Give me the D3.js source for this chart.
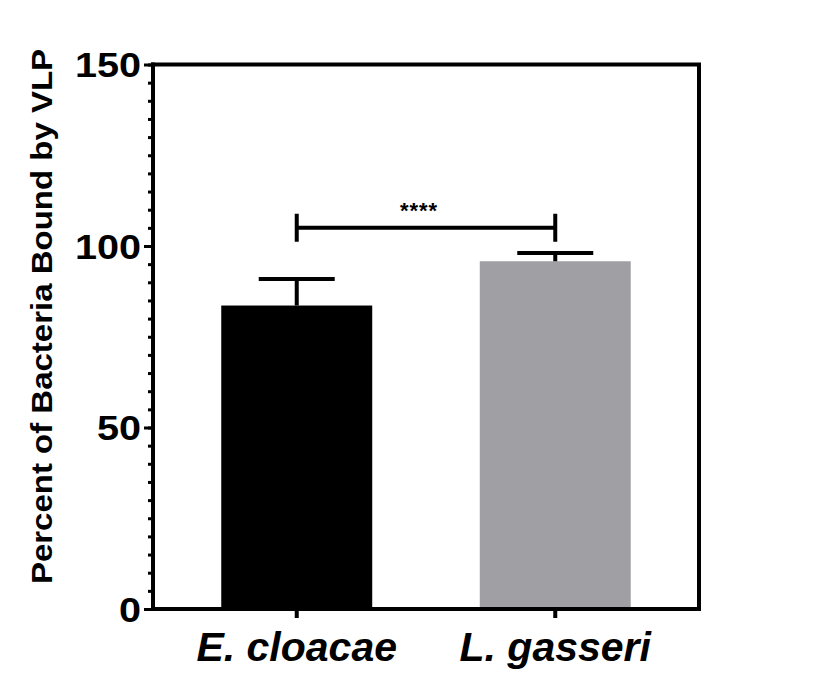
<!DOCTYPE html>
<html>
<head>
<meta charset="utf-8">
<script src="https://cdn.jsdelivr.net/npm/d3@7"></script>
<style>
  body { margin: 0; background: #fff; }
  svg text { font-family: "Liberation Sans", Arial, Helvetica, sans-serif; font-weight: bold; fill: #000; }
</style>
</head>
<body>
<svg id="chart" width="823" height="700"></svg>
<script>
// data
const categories = ['E. cloacae', 'L. gasseri']
const means = [83.6, 95.8]
const errors = [7.3, 2.3]
const barColors = ['#000000', '#a09fa4']
const yTicks = [0, 50, 100, 150]
const yMinorTicks = d3.range(0, 151, 5)
const yLabel = 'Percent of Bacteria Bound by VLP'
const sigPair = ['E. cloacae', 'L. gasseri']
const sigLevel = 105
const sigText = '****'

const PLOT = { left: 153, right: 699, top: 64.5, bottom: 609 }
const STROKE = 4

const svg = d3.select('#chart')

const x = d3.scaleBand()
  .domain(categories)
  .range([PLOT.left, PLOT.right])
  .paddingInner(0.416)
  .paddingOuter(0.264)

const y = d3.scaleLinear()
  .domain([0, 150])
  .range([PLOT.bottom, PLOT.top])

const mid = (c) => x(c) + x.bandwidth() / 2

// bars
svg.append('g').selectAll('rect')
  .data(categories)
  .join('rect')
    .attr('x', (d) => x(d))
    .attr('width', x.bandwidth())
    .attr('y', (d, i) => y(means[i]))
    .attr('height', (d, i) => y(0) - y(means[i]))
    .attr('fill', (d, i) => barColors[i])

// error bars (upper only)
const capHalf = 38
const err = svg.append('g').attr('stroke', '#000').attr('stroke-width', STROKE).attr('fill', 'none')
categories.forEach((c, i) => {
  const cx = mid(c)
  err.append('path')
    .attr('d', 'M' + cx + ',' + y(means[i]) + 'V' + y(means[i] + errors[i]) +
               'M' + (cx - capHalf) + ',' + y(means[i] + errors[i]) + 'H' + (cx + capHalf))
})

// frame: top and right lines
svg.append('path')
  .attr('d', 'M' + PLOT.left + ',' + PLOT.top + 'H' + PLOT.right + 'V' + PLOT.bottom)
  .attr('stroke', '#000').attr('stroke-width', STROKE).attr('fill', 'none')
  .attr('stroke-linecap', 'square')

// y axis: minor ticks every 5, major every 50 (separate groups so they don't collide)
const yMinor = svg.append('g').attr('transform', 'translate(' + PLOT.left + ',0)')
  .call(d3.axisLeft(y).tickValues(yMinorTicks).tickSize(5).tickFormat(''))
const yMajor = svg.append('g').attr('transform', 'translate(' + PLOT.left + ',0)')
  .call(d3.axisLeft(y).tickValues(yTicks).tickSize(9).tickFormat(''))
svg.selectAll('path.domain').remove()
yMinor.selectAll('line').attr('stroke', '#000').attr('stroke-width', 3)
yMajor.selectAll('line').attr('stroke', '#000').attr('stroke-width', 3)
yMajor.append('path')
  .attr('d', 'M0,' + (PLOT.bottom + 2) + 'V' + (PLOT.top - 2))
  .attr('stroke', '#000').attr('stroke-width', STROKE)

svg.append('g').selectAll('g')
  .data(yTicks)
  .join('g')
    .attr('transform', (d) => 'translate(141,' + y(d) + ') scale(1.1,1)')
  .append('text')
    .attr('text-anchor', 'end')
    .attr('dy', '0.36em')
    .attr('font-size', 36)
    .text((d) => d)

// x axis
const xAxis = svg.append('g').attr('transform', 'translate(0,' + PLOT.bottom + ')')
xAxis.call(d3.axisBottom(x).tickSize(9).tickFormat(''))
xAxis.selectAll('path.domain').remove()
xAxis.selectAll('line').attr('stroke', '#000').attr('stroke-width', 4)
xAxis.append('path')
  .attr('d', 'M' + (PLOT.left - 2) + ',0H' + (PLOT.right + 2))
  .attr('stroke', '#000').attr('stroke-width', STROKE)

svg.append('g').selectAll('text')
  .data(categories)
  .join('text')
    .attr('x', (d) => mid(d))
    .attr('y', 661)
    .attr('text-anchor', 'middle')
    .attr('font-size', 41)
    .attr('font-style', 'italic')
    .text((d) => d)

// y title
svg.append('g')
  .attr('transform', 'translate(51.5,316.5) rotate(-90) scale(1.1,1)')
  .append('text')
    .attr('text-anchor', 'middle')
    .attr('font-size', 30)
    .text(yLabel)

// significance bracket
const bx1 = mid(sigPair[0]), bx2 = mid(sigPair[1]), by = y(sigLevel)
svg.append('path')
  .attr('d', 'M' + bx1 + ',' + (by - 14) + 'V' + (by + 14) +
             'M' + bx1 + ',' + by + 'H' + bx2 +
             'M' + bx2 + ',' + (by - 14) + 'V' + (by + 14))
  .attr('stroke', '#000').attr('stroke-width', STROKE).attr('fill', 'none')

svg.append('text')
  .attr('x', (bx1 + bx2) / 2 - 7)
  .attr('y', by - 10)
  .attr('text-anchor', 'middle')
  .attr('font-size', 22)
  .attr('letter-spacing', 1)
  .text(sigText)
</script>
</body>
</html>
